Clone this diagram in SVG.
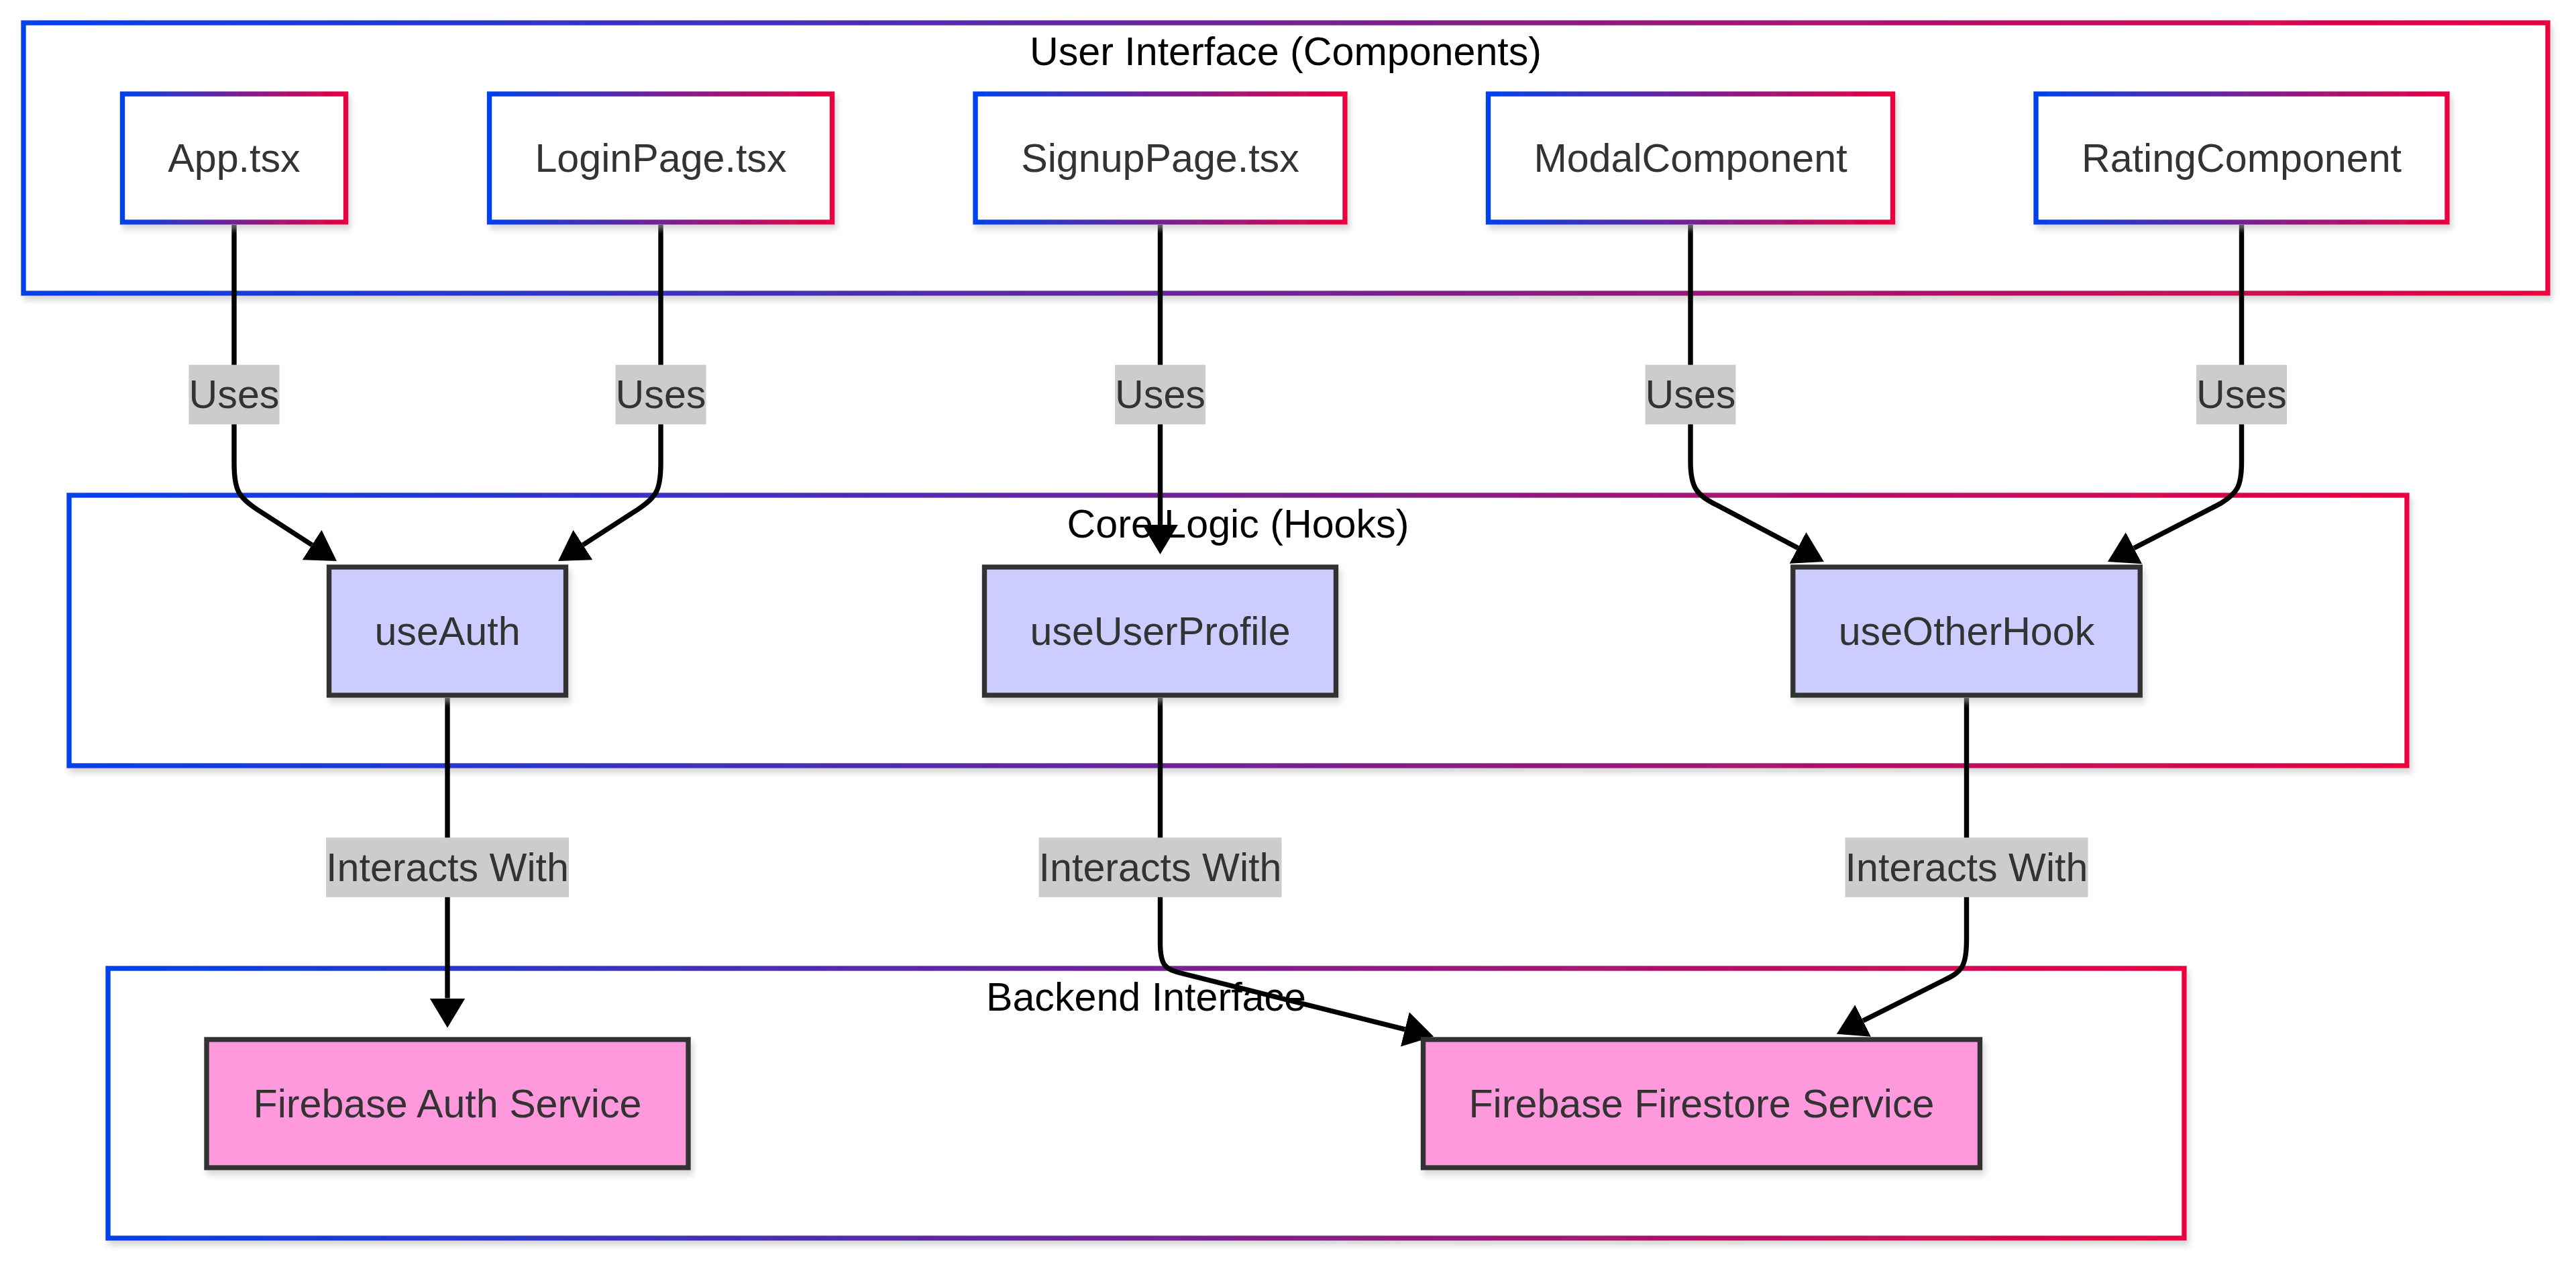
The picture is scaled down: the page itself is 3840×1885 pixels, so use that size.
<svg xmlns="http://www.w3.org/2000/svg" width="3840" height="1885" viewBox="0 0 3840 1885">
<style>
  text { font-family: "Liberation Sans", Arial, Helvetica, sans-serif; font-size: 59.2px; text-anchor: middle; }
  .cluster rect { fill: #ffffff; stroke: url(#grad); stroke-width: 7.4; filter: url(#shadow); }
  .cluster text { fill: #000000; }
  .comp rect { fill: #ffffff; stroke: url(#grad); stroke-width: 7.4; filter: url(#shadow); }
  .hook rect { fill: #ccccff; stroke: #333333; stroke-width: 7.4; filter: url(#shadow); }
  .svc rect { fill: #ff99dd; stroke: #333333; stroke-width: 7.4; filter: url(#shadow); }
  .node text { fill: #333333; }
  .edge { fill: none; stroke: #000000; stroke-width: 7.4; marker-end: url(#arrow); }
  .elabel rect { fill: #cccccc; }
  .elabel text { fill: #333333; }
</style>
<defs>
  <linearGradient id="grad" x1="0" y1="0" x2="1" y2="0">
    <stop offset="0" stop-color="#0042eb"/>
    <stop offset="1" stop-color="#eb0042"/>
  </linearGradient>
  <filter id="shadow" x="-10%" y="-10%" width="125%" height="135%">
    <feDropShadow dx="3.7" dy="7.4" stdDeviation="4" flood-color="#b9b9b9" flood-opacity="0.55"/>
  </filter>
  <marker id="arrow" markerUnits="userSpaceOnUse" viewBox="0 0 44 53" markerWidth="44" markerHeight="53" refX="0" refY="26.5" orient="auto">
    <path d="M0,0 L44,26.5 L0,53 Z" fill="#000000"/>
  </marker>
</defs>
<rect x="0" y="0" width="3840" height="1885" fill="#ffffff"/>

<g id="clusters">
  <g id="cluster-ui" class="cluster">
    <rect x="35" y="34" width="3763" height="403"/>
    <text x="1916.5" y="97">User Interface (Components)</text>
  </g>
  <g id="cluster-core" class="cluster">
    <rect x="103" y="738" width="3485" height="403"/>
    <text x="1845.5" y="801">Core Logic (Hooks)</text>
  </g>
  <g id="cluster-backend" class="cluster">
    <rect x="161" y="1443" width="3095" height="402"/>
    <text x="1708.5" y="1506">Backend Interface</text>
  </g>
</g>

<g id="connectors">
  <path class="edge" d="M349,335 V690 C349,730 355,740 383,759 L465,812"/>
  <path class="edge" d="M985,335 V690 C985,730 979,740 951,759 L869,812"/>
  <path class="edge" d="M1729.5,335 V782"/>
  <path class="edge" d="M2520,335 V688 C2520,728 2530,738 2560,753 L2680,816.4"/>
  <path class="edge" d="M3341.5,335 V688 C3341.5,725 3335,735 3310,750.4 L3181,816.8"/>
  <path class="edge" d="M667,1040 V1487.5"/>
  <path class="edge" d="M1729.5,1040 V1405 C1729.5,1440 1738,1444 1760,1450 L2094.4,1533.9"/>
  <path class="edge" d="M2931.5,1040 V1400 C2931.5,1440 2925,1448 2897,1461 L2777.2,1521"/>
</g>

<g id="edge-labels">
  <g class="elabel"><rect x="281.5" y="543.6" width="135" height="88.8"/><text x="349" y="608">Uses</text></g>
  <g class="elabel"><rect x="917.5" y="543.6" width="135" height="88.8"/><text x="985" y="608">Uses</text></g>
  <g class="elabel"><rect x="1662" y="543.6" width="135" height="88.8"/><text x="1729.5" y="608">Uses</text></g>
  <g class="elabel"><rect x="2452.5" y="543.6" width="135" height="88.8"/><text x="2520" y="608">Uses</text></g>
  <g class="elabel"><rect x="3274" y="543.6" width="135" height="88.8"/><text x="3341.5" y="608">Uses</text></g>
  <g class="elabel"><rect x="486" y="1248.1" width="362" height="88.8"/><text x="667" y="1312.5">Interacts With</text></g>
  <g class="elabel"><rect x="1548.5" y="1248.1" width="362" height="88.8"/><text x="1729.5" y="1312.5">Interacts With</text></g>
  <g class="elabel"><rect x="2750.5" y="1248.1" width="362" height="88.8"/><text x="2931.5" y="1312.5">Interacts With</text></g>
</g>

<g id="node-App" class="node comp"><rect x="182.5" y="140" width="333" height="191"/><text x="349" y="255.5">App.tsx</text></g>
<g id="node-LoginPage" class="node comp"><rect x="729.5" y="140" width="511" height="191"/><text x="985" y="255.5">LoginPage.tsx</text></g>
<g id="node-SignupPage" class="node comp"><rect x="1454" y="140" width="551" height="191"/><text x="1729.5" y="255.5">SignupPage.tsx</text></g>
<g id="node-ModalComponent" class="node comp"><rect x="2218.5" y="140" width="603" height="191"/><text x="2520" y="255.5">ModalComponent</text></g>
<g id="node-RatingComponent" class="node comp"><rect x="3035" y="140" width="613" height="191"/><text x="3341.5" y="255.5">RatingComponent</text></g>

<g id="node-useAuth" class="node hook"><rect x="490.5" y="845" width="353" height="191"/><text x="667" y="960.5">useAuth</text></g>
<g id="node-useUserProfile" class="node hook"><rect x="1467.5" y="845" width="524" height="191"/><text x="1729.5" y="960.5">useUserProfile</text></g>
<g id="node-useOtherHook" class="node hook"><rect x="2672.75" y="845" width="517.5" height="191"/><text x="2931.5" y="960.5">useOtherHook</text></g>

<g id="node-FirebaseAuth" class="node svc"><rect x="308" y="1549" width="718" height="191"/><text x="667" y="1664.5">Firebase Auth Service</text></g>
<g id="node-Firestore" class="node svc"><rect x="2121.5" y="1549" width="830" height="191"/><text x="2536.5" y="1664.5">Firebase Firestore Service</text></g>
</svg>
